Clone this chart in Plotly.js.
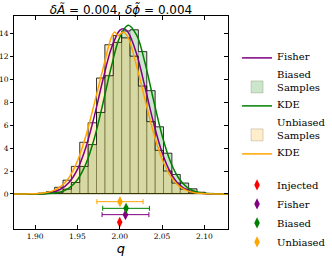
<!DOCTYPE html>
<html>
<head>
<meta charset="utf-8">
<script src="https://cdn.plot.ly/plotly-3.0.1.min.js"></script>
<style>html,body{margin:0;padding:0;background:#fff;}#chart{width:332px;height:257px;}</style>
</head>
<body>
<div id="chart"></div>
<script>
// ---- data ----
const binCenters = [1.8884, 1.8983, 1.9082, 1.9181, 1.9280, 1.9379, 1.9478, 1.9577, 1.9676, 1.9775, 1.9874, 1.9973,
                    2.0072, 2.0171, 2.0270, 2.0369, 2.0468, 2.0567, 2.0666, 2.0765, 2.0864, 2.0963, 2.1062];
const binWidth = 0.0099;
const biasedHist   = [0, 0.005, 0.01, 0.04, 0.15, 0.42, 1.0, 2.4, 4.3, 7.1, 10.3, 13.2,
                      14.2, 14.3, 12.4, 9.0, 5.85, 3.55, 1.7, 0.95, 0.45, 0.15, 0.05];
const unbiasedHist = [0.005, 0.02, 0.07, 0.2, 0.58, 1.2, 2.4, 4.5, 6.2, 10.1, 13.0, 13.8,
                      13.6, 12.0, 9.4, 6.3, 3.8, 2.0, 0.95, 0.42, 0.15, 0.05, 0.015];

const fisherQ = [1.87, 1.88, 1.89, 1.90, 1.91, 1.92, 1.93, 1.94, 1.95, 1.96, 1.97, 1.98, 1.99, 2.00, 2.005,
                 2.01, 2.02, 2.03, 2.04, 2.05, 2.06, 2.07, 2.08, 2.09, 2.10, 2.11, 2.12, 2.13];
const fisherY = [0, 0, 0.003, 0.013, 0.045, 0.145, 0.41, 1.0, 2.15, 4.07, 6.78, 9.9, 12.67, 14.25, 14.38,
                 14.07, 12.19, 9.27, 6.19, 3.63, 1.87, 0.84, 0.335, 0.117, 0.035, 0.009, 0.002, 0];

const biasedKdeQ = [1.87, 1.88, 1.89, 1.90, 1.91, 1.92, 1.93, 1.94, 1.95, 1.96, 1.97, 1.98, 1.99, 2.00,
                    2.01, 2.02, 2.03, 2.04, 2.05, 2.06, 2.07, 2.08, 2.09, 2.10, 2.11, 2.12, 2.13];
const biasedKdeY = [0, 0, 0.001, 0.004, 0.016, 0.058, 0.18, 0.51, 1.24, 2.62, 4.85, 7.84, 11.06, 13.64,
                    14.7, 13.83, 11.37, 8.16, 5.12, 2.81, 1.35, 0.56, 0.2, 0.066, 0.02, 0.005, 0.001];

const unbiasedKdeQ = [1.87, 1.88, 1.89, 1.90, 1.91, 1.92, 1.93, 1.94, 1.95, 1.96, 1.97, 1.98, 1.99, 1.994, 1.998,
                      2.004, 2.01, 2.02, 2.03, 2.04, 2.05, 2.06, 2.07, 2.08, 2.09, 2.10, 2.11, 2.12, 2.13];
const unbiasedKdeY = [0, 0.002, 0.007, 0.026, 0.085, 0.25, 0.64, 1.43, 2.87, 5.07, 7.89, 10.85, 13.6, 14.1, 13.8,
                      14.1, 13.6, 11.12, 8.19, 5.32, 3.05, 1.55, 0.69, 0.27, 0.095, 0.03, 0.008, 0.002, 0];

const estLabels = ['Injected', 'Fisher', 'Biased', 'Unbiased'];
const estQ      = [2.0000, 2.0068, 2.0075, 2.0003];
const estErr    = [0, 0.0277, 0.0276, 0.0273];
const estRow    = [-2.46, -1.8, -1.25, -0.67];

const xTicks = [1.90, 1.95, 2.00, 2.05, 2.10];
const yTicks = [0, 2, 4, 6, 8, 10, 12, 14];

// ---- styles ----
const cGreen = 'green', cOrange = 'orange', cPurple = 'purple', cRed = 'red';
const estColors = [cRed, cPurple, cGreen, cOrange];

function stepXY(centers, heights, w) {
  const xs = [centers[0] - w / 2], ys = [0];
  for (let i = 0; i < centers.length; i++) { xs.push(centers[i] - w / 2); ys.push(heights[i]); }
  const last = centers[centers.length - 1] + w / 2;
  xs.push(last); ys.push(heights[heights.length - 1]);
  xs.push(last); ys.push(0);
  return {xs, ys};
}
const sB = stepXY(binCenters, biasedHist, binWidth);
const sU = stepXY(binCenters, unbiasedHist, binWidth);

const barEdge = 'rgba(60,60,20,0.25)';
const stepEdge = 'rgba(0,0,0,0.8)';
const traces = [
  {type: 'bar', x: binCenters, y: biasedHist, width: binWidth, name: 'Biased<br>Samples', legendrank: 2,
   marker: {color: 'rgba(0,128,0,0.2)', line: {color: barEdge, width: 0.8}}, hoverinfo: 'skip'},
  {type: 'bar', x: binCenters, y: unbiasedHist, width: binWidth, name: 'Unbiased<br>Samples', legendrank: 4,
   marker: {color: 'rgba(255,165,0,0.2)', line: {color: barEdge, width: 0.8}}, hoverinfo: 'skip'},
  {type: 'scatter', mode: 'lines', x: sB.xs, y: sB.ys, line: {shape: 'hv', color: stepEdge, width: 0.9},
   showlegend: false, hoverinfo: 'skip'},
  {type: 'scatter', mode: 'lines', x: sU.xs, y: sU.ys, line: {shape: 'hv', color: stepEdge, width: 0.9},
   showlegend: false, hoverinfo: 'skip'},
  {type: 'scatter', mode: 'lines', x: fisherQ, y: fisherY, name: 'Fisher', legendrank: 1,
   line: {color: cPurple, width: 1.5, shape: 'spline'}, hoverinfo: 'skip'},
  {type: 'scatter', mode: 'lines', x: biasedKdeQ, y: biasedKdeY, name: 'KDE', legendrank: 3,
   line: {color: cGreen, width: 1.5, shape: 'spline'}, hoverinfo: 'skip'},
  {type: 'scatter', mode: 'lines', x: unbiasedKdeQ, y: unbiasedKdeY, name: 'KDE', legendrank: 5,
   line: {color: cOrange, width: 1.5, shape: 'spline'}, hoverinfo: 'skip'}
];
estLabels.forEach((lab, i) => {
  traces.push({type: 'scatter', mode: 'markers', x: [estQ[i]], y: [estRow[i]], name: lab, legend: 'legend2',
    legendrank: i + 1,
    marker: {symbol: 'diamond-tall', size: 8, color: estColors[i]},
    error_x: {type: 'data', array: [estErr[i]], visible: estErr[i] > 0, color: estColors[i], thickness: 1, width: 2.5},
    hoverinfo: 'skip'});
});
traces.push({type: 'scatter', mode: 'markers', x: [null], y: [null], yaxis: 'y2', showlegend: false, hoverinfo: 'skip'});

const tickFont = {family: 'DejaVu Serif', size: 7.5, color: '#000'};
const yRange = [-3.05, 15.5];
const legendFont = {family: 'DejaVu Serif', size: 10, color: '#000'};
const layout = {
  width: 332, height: 257,
  margin: {l: 14, r: 104, t: 16, b: 28, autoexpand: false},
  paper_bgcolor: '#fff', plot_bgcolor: '#fff',
  barmode: 'overlay',
  showlegend: true,
  title: {text: '<i>δÃ</i> = 0.004, <i>δϕ̃</i> = 0.004', font: {family: 'DejaVu Sans', size: 12, color: '#000'},
          x: 0.5, xref: 'paper', xanchor: 'center', y: 1, yref: 'paper', yanchor: 'bottom', pad: {b: 2}},
  xaxis: {range: [1.875, 2.128], tickvals: xTicks, tickformat: '.2f', ticks: 'inside', ticklen: 4, tickcolor: '#000',
          showline: true, linecolor: '#000', linewidth: 1, mirror: 'ticks', showgrid: false, zeroline: false,
          tickfont: tickFont, automargin: false,
          title: {text: '<i>q</i>', font: {family: 'DejaVu Sans', size: 13, color: '#000'}, standoff: 2}},
  yaxis: {range: yRange, tickvals: yTicks, ticks: 'outside', ticklen: 3, tickcolor: '#000',
          showline: true, linecolor: '#000', linewidth: 1, mirror: true, showgrid: false, automargin: false,
          zeroline: true, zerolinecolor: '#000', zerolinewidth: 1, tickfont: tickFont},
  yaxis2: {overlaying: 'y', side: 'right', range: yRange, tickvals: yTicks, ticks: 'inside', ticklen: 4,
           tickcolor: '#000', showticklabels: false, showline: false, showgrid: false, zeroline: false},
  legend: {xref: 'container', yref: 'container', x: 0.714, xanchor: 'left', y: 0.837, yanchor: 'top',
           valign: 'bottom', tracegroupgap: 0, font: legendFont, bgcolor: 'rgba(0,0,0,0)', borderwidth: 0},
  legend2: {xref: 'container', yref: 'container', x: 0.714, xanchor: 'left', y: 0.337, yanchor: 'top',
            tracegroupgap: 0, font: legendFont, bgcolor: 'rgba(0,0,0,0)', borderwidth: 0}
};
Plotly.newPlot('chart', traces, layout, {staticPlot: true, displayModeBar: false});
</script>
</body>
</html>
